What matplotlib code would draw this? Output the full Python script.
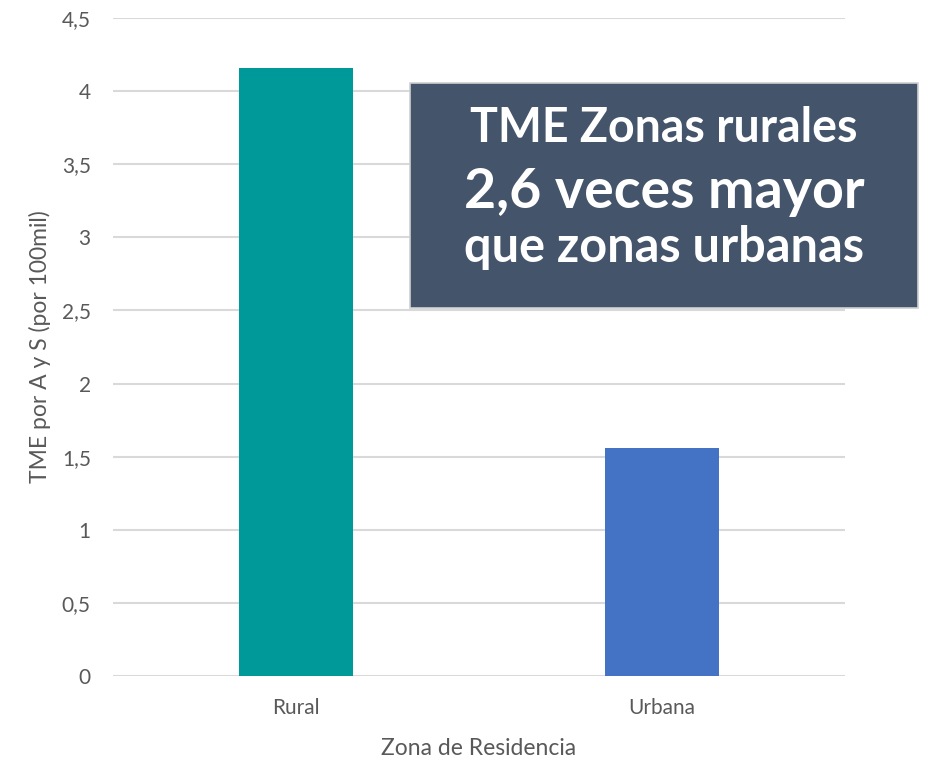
import matplotlib
matplotlib.use("Agg")
import matplotlib.pyplot as plt
from matplotlib.patches import Rectangle
from matplotlib.ticker import FuncFormatter, MultipleLocator

# datos
zonas = ["Rural", "Urbana"]
tme = [4.16, 1.56]
colores = ["#009999", "#4472C4"]
lineas_caja = ["TME Zonas rurales", "2,6 veces mayor", "que zonas urbanas"]

plt.rcParams["font.family"] = ["Lato", "DejaVu Sans"]

fig = plt.figure(figsize=(9.27, 7.59), dpi=100)
ax = fig.add_axes([0.1219, 0.1094, 0.7896, 0.8669])

x = list(range(len(zonas)))
ax.bar(x, tme, width=0.314, color=colores, zorder=3)

ax.set_xlim(-0.5, len(zonas) - 0.5)
ax.set_ylim(0, 4.5)
ax.yaxis.set_major_locator(MultipleLocator(0.5))
ax.yaxis.set_major_formatter(FuncFormatter(lambda v, p: ("%g" % v).replace(".", ",")))
ax.set_xticks(x)
ax.set_xticklabels(zonas)
ax.grid(axis="y", color="#D9D9D9", linewidth=1.5, zorder=0)
for s in ax.spines.values():
    s.set_visible(False)
ax.tick_params(axis="both", length=0, colors="#595959", labelsize=15)
ax.tick_params(axis="y", pad=16)
ax.tick_params(axis="x", pad=16)

ax.set_ylabel("TME por A y S (por 100mil)", fontsize=16.5, color="#595959", labelpad=8)
ax.set_xlabel("Zona de Residencia", fontsize=16.5, color="#595959", labelpad=14)

# caja de texto
fig.patches.append(Rectangle((0.4423, 0.5942), 0.548, 0.2964, transform=fig.transFigure,
                             facecolor="#44546A", edgecolor="#D0D0D0", linewidth=1.2, zorder=5))
cx = 0.7163
fig.text(cx, 0.8129, lineas_caja[0], color="white", fontsize=33.5, fontweight="bold",
         ha="center", va="baseline", zorder=6)
fig.text(cx, 0.7260, lineas_caja[1], color="white", fontsize=40, fontweight="bold",
         ha="center", va="baseline", zorder=6)
fig.text(cx, 0.6548, lineas_caja[2], color="white", fontsize=35, fontweight="bold",
         ha="center", va="baseline", zorder=6)

fig.savefig("out.png", dpi=100)
